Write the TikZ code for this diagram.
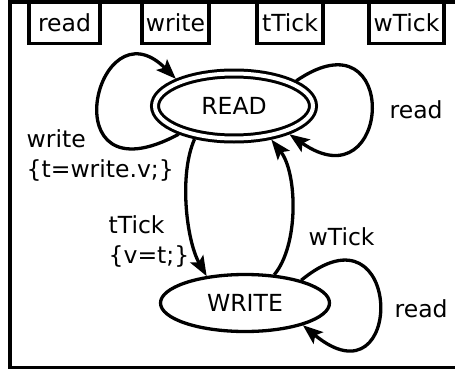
\documentclass[tikz,border=0pt]{standalone}
\usepackage{fontspec}
\setmainfont{DejaVu Sans}
\usetikzlibrary{arrows.meta,shapes.geometric}
\begin{document}
\begin{tikzpicture}[x=1pt,y=-1pt,line width=3.3pt,
  every node/.style={font=\fontsize{23.5}{30}\selectfont},
  state/.style={ellipse,draw,inner sep=0pt},
  evbox/.style={draw,rectangle,minimum height=41.5pt,inner sep=0pt},
  lbl/.style={anchor=base west,inner sep=0pt,align=left},
  arr/.style={-{Stealth[length=20pt,width=15pt,inset=4pt]}}]
\useasboundingbox (0,0) rectangle (455,372);
\draw[line width=3.5pt] (458,2) -- (10,2) -- (10,367.7) -- (458,367.7);
% event boxes
\node[evbox,minimum width=71pt] (bRead) at (64.5,22.75) {read};
\node[evbox,minimum width=67pt] (bWrite) at (175.5,22.75) {write};
\node[evbox,minimum width=66pt] (bTTick) at (290,22.75) {tTick};
\node[evbox,minimum width=75pt] (bWTick) at (406.5,22.75) {wTick};
% states
\node[state,line width=3pt,double,double distance=4pt,minimum width=158pt,minimum height=65pt,outer sep=5pt] (R) at (234,106) {READ};
\node[state,minimum width=169pt,minimum height=57pt,outer sep=1.5pt] (W) at (245,303) {WRITE};
% transitions
\draw[arr] (R.207) .. controls +(-130,70) and +(-80,-80) .. (R.155);
\draw[arr] (R.22) .. controls +(105,-72) and +(103,72) .. (R.-27);
\draw[arr] (R.220) .. controls +(-16,36) and +(-20,-35) .. (W.145);
\draw[arr] (W.44) .. controls +(25,-30) and +(26,33) .. (R.-42);
\draw[arr] (W.22) .. controls +(103,-85) and +(103,85) .. (W.-21);
% labels
\node[lbl] (lW) at (25,177) {write\\\{t=write.v;\}};
\node[lbl] (lT) at (107,263) {tTick\\\{v=t;\}};
\node[lbl] (lWt) at (307,245) {wTick};
\node[lbl] (lR1) at (388,118) {read};
\node[lbl] (lR2) at (393,317) {read};
\end{tikzpicture}
\end{document}
